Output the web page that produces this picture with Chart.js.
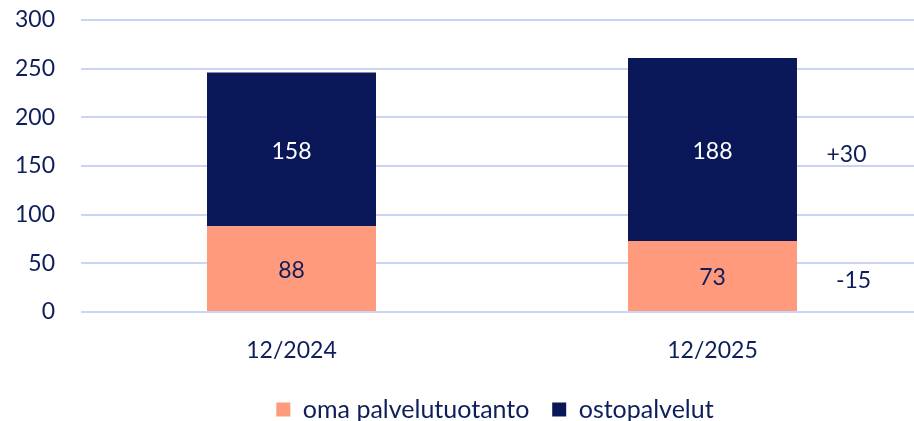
<!DOCTYPE html>
<html>
<head>
<meta charset="utf-8">
<script src="https://cdn.jsdelivr.net/npm/chart.js@4.4.1/dist/chart.umd.min.js"></script>
<style>
html,body{margin:0;padding:0;overflow:hidden;background:#fff;}
#wrap{width:990px;height:432px;}
</style>
</head>
<body>
<div id="wrap"><canvas id="c" width="990" height="432"></canvas></div>
<script>
const categories = ['12/2024', '12/2025'];
const omaValues = [88, 73];
const ostoValues = [158, 188];
const seriesNames = ['oma palvelutuotanto', 'ostopalvelut'];
const changeLabels = ['-15', '+30']; // change 12/2024 -> 12/2025 for oma, osto
const yTicks = [0, 50, 100, 150, 200, 250, 300];

const NAVY = '#0A1859';
const SALMON = '#FF9A7C';
const TEXT = '#0E1E5B';
const FONT = 'Lato, "Noto Sans", sans-serif';

const segLabels = {
  id: 'segLabels',
  afterDatasetsDraw(chart) {
    const ctx = chart.ctx;
    ctx.save();
    ctx.font = '23px ' + FONT;
    ctx.textAlign = 'center';
    ctx.textBaseline = 'middle';
    chart.data.datasets.forEach((ds, di) => {
      const meta = chart.getDatasetMeta(di);
      meta.data.forEach((bar, i) => {
        const y = (bar.y + bar.base) / 2 + 2;
        ctx.fillStyle = di === 0 ? TEXT : '#FFFFFF';
        ctx.fillText(String(ds.data[i]), bar.x, y);
      });
    });
    const last = categories.length - 1;
    const cx = chart.scales.x.getPixelForValue(last);
    ctx.fillStyle = TEXT;
    [0, 1].forEach(di => {
      const bar = chart.getDatasetMeta(di).data[last];
      const y = (bar.y + bar.base) / 2 + 5;
      const dx = di === 0 ? 141 : 134;
      ctx.fillText(changeLabels[di], cx + dx, y);
    });
    ctx.restore();
  }
};

new Chart(document.getElementById('c'), {
  type: 'bar',
  data: {
    labels: categories,
    datasets: [
      { label: seriesNames[0], data: omaValues, backgroundColor: SALMON, borderWidth: 0 },
      { label: seriesNames[1], data: ostoValues, backgroundColor: NAVY, borderWidth: 0 }
    ]
  },
  options: {
    responsive: false,
    animation: false,
    devicePixelRatio: 1,
    layout: { padding: { left: 0, right: 0, top: 20, bottom: 0 } },
    datasets: { bar: { categoryPercentage: 1, barPercentage: 0.4014 } },
    plugins: {
      legend: {
        position: 'bottom',
        labels: {
          boxWidth: 14, boxHeight: 14, padding: 10,
          color: TEXT,
          font: { family: FONT, size: 25 },
          generateLabels(chart) {
            const items = Chart.defaults.plugins.legend.labels.generateLabels(chart);
            items.forEach((it, i) => { if (i < items.length - 1) it.text = it.text + '\u00A0\u00A0'; });
            return items;
          }
        }
      },
      tooltip: { enabled: false }
    },
    scales: {
      x: {
        stacked: true,
        grid: { display: false },
        border: { display: false },
        afterFit(scale) { scale.height = 75; scale.paddingLeft = 0; scale.paddingRight = 0; },
        ticks: { color: TEXT, font: { family: FONT, size: 23 }, padding: 17 }
      },
      y: {
        stacked: true,
        min: 0, max: 300,
        afterBuildTicks(scale) { scale.ticks = yTicks.map(v => ({ value: v })); },
        afterFit(scale) { scale.width = 81; scale.paddingTop = 0; scale.paddingBottom = 0; },
        grid: { color: '#CBD4F5', lineWidth: 2, drawTicks: false },
        border: { display: false },
        ticks: { color: TEXT, font: { family: FONT, size: 23 }, padding: 26 }
      },
      yRight: {
        position: 'right',
        display: true,
        grid: { display: false, drawTicks: false },
        border: { display: false },
        ticks: { display: false },
        afterFit(scale) { scale.width = 67; scale.paddingTop = 0; scale.paddingBottom = 0; }
      }
    }
  },
  plugins: [segLabels]
});
</script>
</body>
</html>
